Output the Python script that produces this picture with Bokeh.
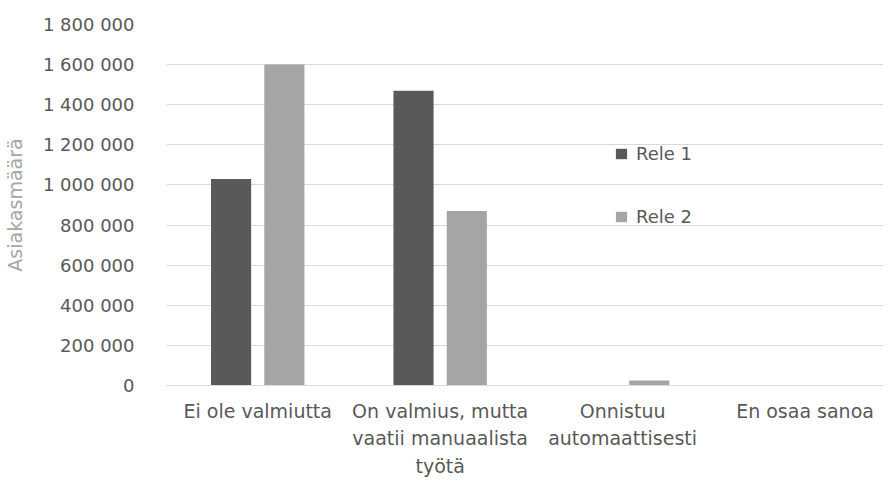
from bokeh.plotting import figure
from bokeh.models import Range1d, FixedTicker, Legend, LegendItem, ColumnDataSource
from bokeh.transform import dodge
from bokeh.embed import file_html
from bokeh.resources import INLINE

categories = ["Ei ole valmiutta",
              "On valmius, mutta\nvaatii manuaalista\ntyötä",
              "Onnistuu\nautomaattisesti",
              "En osaa sanoa"]
rele1 = [1030000, 1470000, 3000, 2000]
rele2 = [1600000, 870000, 25000, 1000]
series_names = ["Rele 1", "Rele 2"]
series_colors = ["#595959", "#a5a5a5"]
y_ticks = [0, 200000, 400000, 600000, 800000, 1000000, 1200000, 1400000, 1600000, 1800000]
y_tick_labels = ["0", "200 000", "400 000", "600 000", "800 000", "1 000 000",
                 "1 200 000", "1 400 000", "1 600 000", "1 800 000"]
y_title = "Asiakasmäärä"

xpos = [i + 0.5 for i in range(len(categories))]
src = ColumnDataSource(dict(x=xpos, r1=rele1, r2=rele2))

FONT = "DejaVu Sans"
TXT = "#595959"

p = figure(width=883, height=480, output_backend="svg", toolbar_location=None,
           x_range=Range1d(0, 3.93), y_range=Range1d(0, 1800000),
           min_border_left=156, min_border_right=0, min_border_top=24, min_border_bottom=92)
p.outline_line_color = None
p.background_fill_color = "white"
p.border_fill_color = "white"

bw = 0.22
off = 0.146
b1 = p.vbar(x=dodge("x", -off, range=p.x_range), top="r1", width=bw, source=src,
            fill_color=series_colors[0], line_color=None)
b2 = p.vbar(x=dodge("x", off, range=p.x_range), top="r2", width=bw, source=src,
            fill_color=series_colors[1], line_color=None)

# axes
p.xaxis.ticker = FixedTicker(ticks=xpos)
p.xaxis.major_label_overrides = {x: c for x, c in zip(xpos, categories)}
p.xaxis.major_tick_line_color = None
p.xaxis.minor_tick_line_color = None
p.xaxis.axis_line_color = "#d9d9d9"
p.xaxis.major_label_text_font = FONT
p.xaxis.major_label_text_font_size = "19px"
p.xaxis.major_label_text_color = TXT
p.xaxis.major_label_text_line_height = 1.27
p.xaxis.major_label_standoff = 8

p.yaxis.ticker = FixedTicker(ticks=y_ticks)
p.yaxis.major_label_overrides = {t: l for t, l in zip(y_ticks, y_tick_labels)}
p.yaxis.major_tick_line_color = None
p.yaxis.minor_tick_line_color = None
p.yaxis.axis_line_color = None
p.yaxis.major_label_text_font = FONT
p.yaxis.major_label_text_font_size = "18px"
p.yaxis.major_label_text_color = TXT
p.yaxis.major_label_standoff = 26
p.yaxis.axis_label = y_title
p.yaxis.axis_label_text_font = FONT
p.yaxis.axis_label_text_font_size = "19px"
p.yaxis.axis_label_text_font_style = "normal"
p.yaxis.axis_label_text_color = "#a6a6a6"
p.yaxis.axis_label_standoff = 14

p.xgrid.grid_line_color = None
p.ygrid.ticker = FixedTicker(ticks=y_ticks)
p.ygrid.grid_line_color = "#d9d9d9"
p.ygrid.grid_line_width = 1

legend = Legend(items=[LegendItem(label=series_names[0], renderers=[b1]),
                       LegendItem(label=series_names[1], renderers=[b2])],
                location=(448, 158), orientation="vertical",
                glyph_width=14, glyph_height=13, label_standoff=8,
                label_height=21, spacing=42, padding=0, margin=0,
                border_line_color=None, background_fill_alpha=0,
                label_text_font=FONT, label_text_font_size="18px",
                label_text_color=TXT)
p.add_layout(legend)

open("out.html", "w").write(file_html(p, INLINE))
